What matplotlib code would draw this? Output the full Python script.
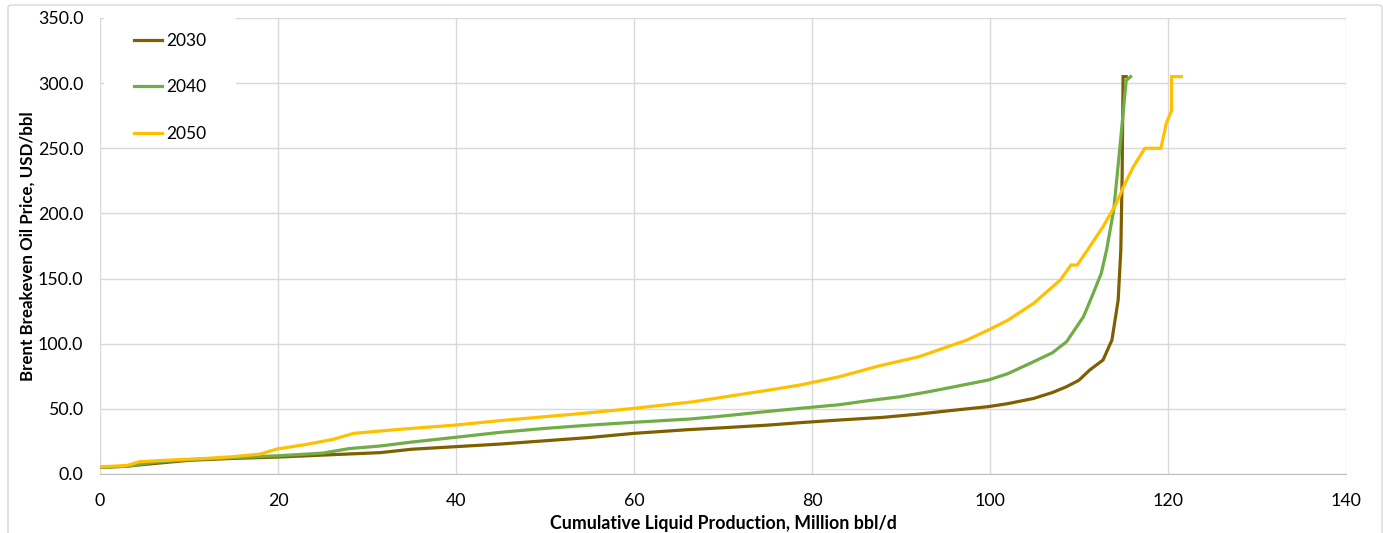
import numpy as np
import matplotlib
matplotlib.use("Agg")
import matplotlib.pyplot as plt
from matplotlib.patches import FancyBboxPatch, Rectangle
from matplotlib.ticker import FormatStrFormatter

plt.rcParams['font.family'] = ['Lato', 'DejaVu Sans']

# supply curves: cumulative production (Mbbl/d) vs breakeven price (USD/bbl)
x2030 = [0, 3, 6, 10, 15, 20, 25, 31.5, 35, 40, 45, 50, 55, 60, 66, 70, 75,
         78.65, 83, 88, 92, 96, 99.8, 102, 104.9, 107, 108.6, 110, 111.2,
         112.7, 113.7, 114.4, 114.7, 114.85, 114.95, 115.3]
y2030 = [5, 6, 8, 10.5, 12, 13, 14.5, 16.4, 19, 21, 23, 25.5, 28, 31.2, 34,
         35.5, 37.5, 39.4, 41.4, 43.5, 46, 49, 51.7, 54, 58, 62.5, 67, 72,
         79.8, 87.5, 102.8, 133.5, 172, 230, 305, 305]

x2040 = [0, 3, 6, 10, 15, 20, 25, 28, 31.5, 35, 40, 45, 50, 55, 60, 66.3, 70,
         75, 78.65, 83.1, 86, 89.9, 93, 96, 99.8, 102, 104.9, 107, 108.6,
         110.5, 111.6, 112.5, 113.1, 113.7, 113.9, 114.6, 115.3, 115.8]
y2040 = [5, 6, 9, 11, 12.5, 14, 16, 19.5, 21.5, 24.5, 28.2, 32, 35, 37.5,
         39.7, 42.2, 44.5, 48, 50.4, 53.2, 56, 59.3, 63, 67, 72.1, 77, 86.2,
         93, 101.5, 120.7, 138.7, 154, 172, 195, 202.6, 251, 302, 305]

x2050 = [0, 3, 4.5, 7.9, 12, 15, 18, 19.9, 23, 26.2, 28.5, 31.5, 33.7, 40, 45,
         50, 55, 60, 66.7, 70, 75.7, 78.65, 83.1, 87.6, 92, 97.4, 99.8, 102,
         104.9, 107.9, 109.1, 109.8, 111.2, 112.7, 114.2, 115.0, 116.1, 117.4,
         119.2, 119.8, 120.4, 120.4, 121.5]
y2050 = [5.5, 6.5, 9.5, 10.7, 12, 13.3, 15.3, 19.2, 22.5, 26.6, 31.2, 33,
         34.3, 37.6, 41, 44, 47, 50.4, 55.5, 59, 65, 68.3, 74.7, 83.1, 90,
         102.8, 110.5, 118, 131, 148.9, 160.4, 160.4, 174.4, 189.8, 207.8,
         220.5, 235.8, 250, 250, 269, 279, 305, 305]

series = [("2030", x2030, y2030, "#7F6000"),
          ("2040", x2040, y2040, "#70AD47"),
          ("2050", x2050, y2050, "#FFC000")]

fig = plt.figure(figsize=(13.83, 5.33), dpi=100)
ax = fig.add_axes([100/1383, 59/533, 1246/1383, 456/533])

# chart frame
fig.patches.append(FancyBboxPatch((8/1383, -0.05), 1374/1383, 528/533 + 0.05,
                                  boxstyle="round,pad=0,rounding_size=0.004",
                                  transform=fig.transFigure, fill=False,
                                  edgecolor="#D9D9D9", linewidth=1))

for name, xs, ys, col in series:
    ax.plot(xs, ys, color=col, lw=2.3, label=name, solid_joinstyle="miter",
            zorder=3)

ax.set_xlim(0, 140)
ax.set_ylim(0, 350)
ax.set_xticks(np.arange(0, 141, 20))
ax.set_yticks(np.arange(0, 351, 50))
ax.yaxis.set_major_formatter(FormatStrFormatter("%.1f"))
ax.grid(True, color="#D9D9D9", lw=1)
ax.set_axisbelow(True)
for s in ["top", "right", "left"]:
    ax.spines[s].set_visible(False)
ax.spines["bottom"].set_color("#BFBFBF")
ax.tick_params(length=0, labelsize=12.8, colors="#000000")
ax.tick_params(axis="x", pad=14)
ax.tick_params(axis="y", pad=12)

ax.set_xlabel("Cumulative Liquid Production, Million bbl/d", fontsize=12.8,
              fontweight="bold", labelpad=4)
ax.set_ylabel("Brent Breakeven Oil Price, USD/bbl", fontsize=12.2,
              fontweight="bold", labelpad=2)

# white block behind the legend hides the grid
ax.add_patch(Rectangle((0.5, 251), 14.8, 99.5, facecolor="white",
                       edgecolor="none", zorder=1))

leg = ax.legend(loc="upper left", bbox_to_anchor=(0.027, 0.968), fontsize=12.5,
                frameon=False, handlelength=1.65, handletextpad=0.2,
                labelspacing=1.78, borderpad=0, borderaxespad=0)

fig.savefig("out.png", dpi=100)
